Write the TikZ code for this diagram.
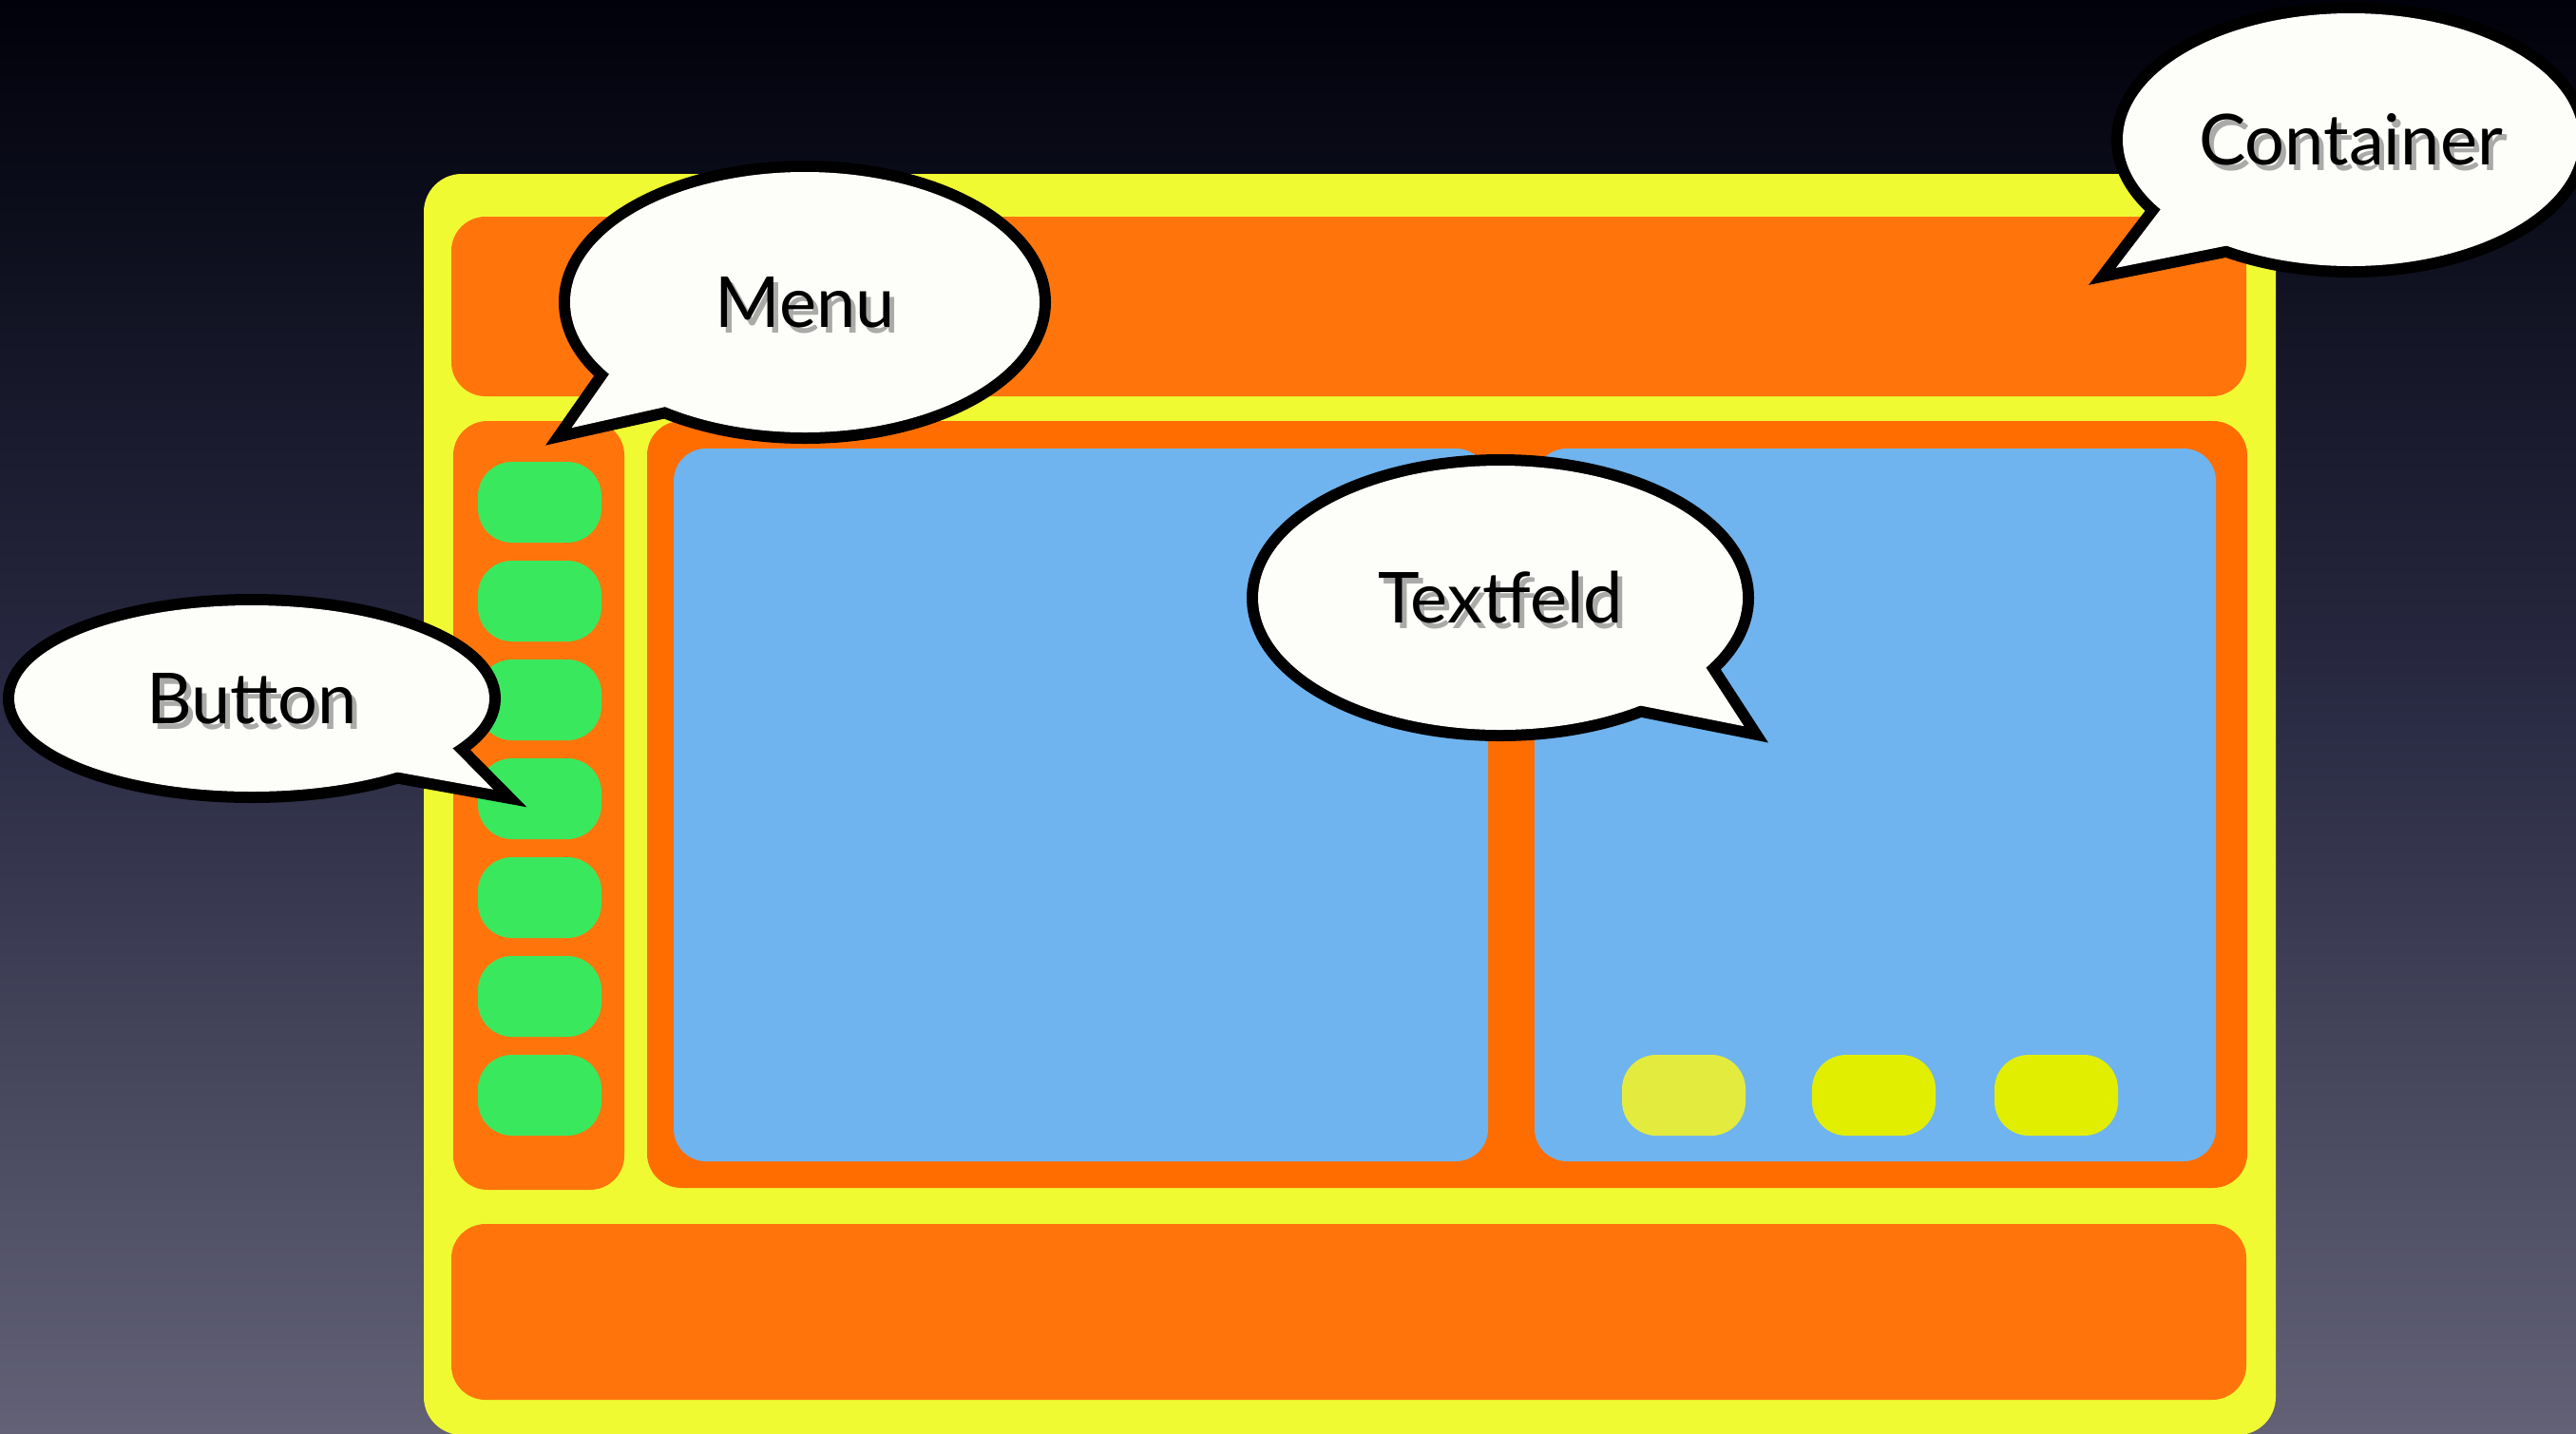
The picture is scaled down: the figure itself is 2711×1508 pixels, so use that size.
\documentclass[tikz,border=0pt]{standalone}
\usepackage{fontspec}
\setmainfont{Lato}
\usetikzlibrary{calc}
\definecolor{bgtop}{HTML}{00010A}
\definecolor{bgmid}{HTML}{2A2B44}
\definecolor{bgbot}{HTML}{626176}
\definecolor{contyellow}{HTML}{F0FA32}
\definecolor{orangeA}{HTML}{FF750C}
\definecolor{orangeB}{HTML}{FF6D00}
\definecolor{panelblue}{HTML}{6FB4EE}
\definecolor{btngreen}{HTML}{3AE85E}
\definecolor{btnyellowA}{HTML}{E3EB3F}
\definecolor{btnyellowB}{HTML}{E2EE00}
\definecolor{bubblefill}{HTML}{FDFEFA}
\tikzset{
  boxA/.style={fill=orangeA, rounded corners=36pt},
  boxB/.style={fill=orangeB, rounded corners=36pt},
  bluebox/.style={fill=panelblue, rounded corners=34pt},
  greenbtn/.style={fill=btngreen, rounded corners=36pt},
  ylwbtnA/.style={fill=btnyellowA, rounded corners=36pt},
  ylwbtnB/.style={fill=btnyellowB, rounded corners=36pt},
  bubbletext/.style={font=\fontsize{74}{80}\selectfont, text=black, inner sep=0pt},
  shadowtext/.style={font=\fontsize{74}{80}\selectfont, text=black!55, opacity=0.6, inner sep=0pt},
}
\newcommand\mybubble[8]{%
  \coordinate (#1-c) at (#2);
  \coordinate (#1-t0) at (#5);
  \coordinate (#1-m) at ($(#6)!0.5!(#7)$);
  \coordinate (#1-t) at ($(#1-t0)!26pt!(#1-m)$);
  \coordinate (#1-b1) at ($(#1-t)!1.45!(#6)$);
  \coordinate (#1-b2) at ($(#1-t)!1.45!(#7)$);
  \draw[line width=24pt, black] (#1-c) ellipse [x radius=#3, y radius=#4];
  \draw[line width=24pt, black, line join=miter, line cap=butt] (#1-b1) -- (#1-t) -- (#1-b2);
  \fill[bubblefill] (#1-c) ellipse [x radius=#3, y radius=#4];
  \fill[bubblefill] (#1-b1) -- (#1-t) -- (#1-b2) -- cycle;
  \node[shadowtext] (#1-shadow) at ($(#1-c)+(5,6)$) {#8};
  \node[bubbletext] (#1) at (#1-c) {#8};
}
\begin{document}
\begin{tikzpicture}[x=1pt, y=-1pt]
\useasboundingbox (0,0) rectangle (2711,1508);
\shade[top color=bgtop, bottom color=bgbot, middle color=bgmid] (0,0) rectangle (2711,1508);

% container
\fill[contyellow, rounded corners=40pt] (446,183) rectangle (2395,1510);
\fill[boxA] (475,228) rectangle (2364,417);
\fill[boxA] (477,443) rectangle (657,1252);
\fill[boxB] (681,443) rectangle (2365,1250);
\fill[boxA] (475,1288) rectangle (2364,1473);

% text fields
\fill[bluebox] (709,472) rectangle (1566,1222);
\fill[bluebox] (1615,472) rectangle (2332,1222);

% green buttons
\foreach \t in {486,590,694,798,902,1006,1110}{
  \fill[greenbtn] (503,\t) rectangle (633,\t+85);
}
% yellow buttons
\fill[ylwbtnA] (1707,1110) rectangle (1837,1195);
\fill[ylwbtnB] (1907,1110) rectangle (2037,1195);
\fill[ylwbtnB] (2099,1110) rectangle (2229,1195);

% bubbles
\mybubble{container}{2474,147}{240}{133}{2204,294}{2271,224}{2331,261}{Container}
\mybubble{menu}{847,318}{247}{137}{579,463}{643,391}{705,427}{Menu}
\mybubble{textfeld}{1579,629}{255}{139}{1858,777}{1795,702}{1729,743}{Textfeld}
\mybubble{button}{265,735}{250}{98}{543,841}{472,783}{410,811}{Button}
\end{tikzpicture}
\end{document}
